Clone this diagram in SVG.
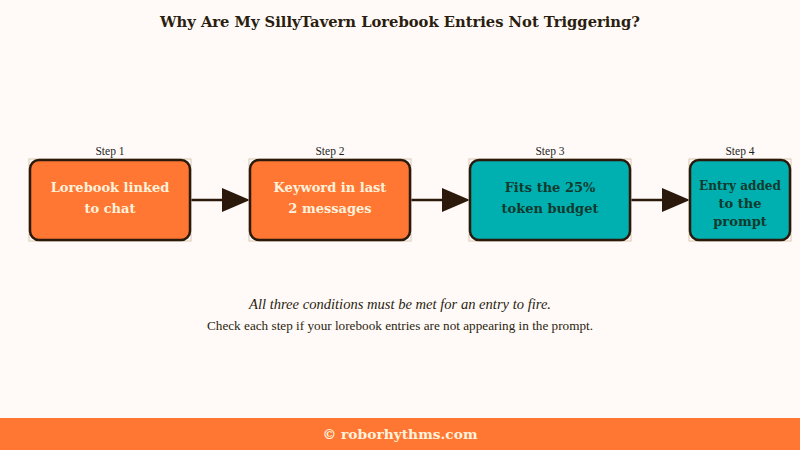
<svg xmlns="http://www.w3.org/2000/svg" width="800" height="450" viewBox="0 0 800 450">
<defs>
<style>
text{font-family:"DejaVu Serif","Liberation Serif",serif;}
.title{font-size:14.7px;font-weight:bold;fill:#2a1e10;text-anchor:middle;}
.step{font-family:"Liberation Serif",serif;font-size:11.5px;fill:#1e1e1e;text-anchor:middle;}
.frame{fill:none;stroke:#5a4a38;stroke-width:1.2;stroke-dasharray:3 156 3 0;}
.box{stroke:#2b1a0c;stroke-width:2.5;}
.orange{fill:#ff7733;}
.teal{fill:#00b0b0;}
.lt{font-size:13px;font-weight:bold;fill:#fff2dc;text-anchor:middle;}
.dt{font-size:13px;font-weight:bold;fill:#123a2e;text-anchor:middle;}
.conn{stroke:#2b1a0c;stroke-width:2.5;fill:none;}
.note1{font-family:"Liberation Serif",serif;font-size:14px;font-style:italic;fill:#2a1e10;text-anchor:middle;}
.note2{font-family:"Liberation Serif",serif;font-size:12.5px;fill:#2a1e10;text-anchor:middle;}
.foot{font-size:13.8px;font-weight:bold;fill:#fff2dc;text-anchor:middle;}
</style>
</defs>
<rect width="800" height="450" fill="#fffaf7"/>
<text class="title" x="400" y="27" textLength="480" lengthAdjust="spacingAndGlyphs">Why Are My SillyTavern Lorebook Entries Not Triggering?</text>
<g id="connectors">
<line class="conn" x1="191" y1="200" x2="223" y2="200"/>
<path d="M222,188 L250,200 L222,212 Z" fill="#2b1a0c"/>
<line class="conn" x1="411" y1="200" x2="443" y2="200"/>
<path d="M442,188 L470,200 L442,212 Z" fill="#2b1a0c"/>
<line class="conn" x1="631" y1="200" x2="663" y2="200"/>
<path d="M662,188 L690,200 L662,212 Z" fill="#2b1a0c"/>
</g>
<g id="step1">
<text class="step" x="110" y="155">Step 1</text>
<rect x="29" y="159" width="162" height="82" fill="none" stroke="#d8c8b0" stroke-width="1"/>
<rect class="box orange" x="30" y="160" width="160" height="80" rx="9"/>
<text class="lt" x="110" y="192">Lorebook linked</text>
<text class="lt" x="110" y="213">to chat</text>
</g>
<g id="step2">
<text class="step" x="330" y="155">Step 2</text>
<rect x="249" y="159" width="162" height="82" fill="none" stroke="#d8c8b0" stroke-width="1"/>
<rect class="box orange" x="250" y="160" width="160" height="80" rx="9"/>
<text class="lt" x="330" y="192">Keyword in last</text>
<text class="lt" x="330" y="213">2 messages</text>
</g>
<g id="step3">
<text class="step" x="550" y="155">Step 3</text>
<rect x="469" y="159" width="162" height="82" fill="none" stroke="#d8c8b0" stroke-width="1"/>
<rect class="box teal" x="470" y="160" width="160" height="80" rx="9"/>
<text class="dt" x="550" y="192">Fits the 25%</text>
<text class="dt" x="550" y="213">token budget</text>
</g>
<g id="step4">
<text class="step" x="740" y="155">Step 4</text>
<rect x="689" y="159" width="102" height="82" fill="none" stroke="#d8c8b0" stroke-width="1"/>
<rect class="box teal" x="690" y="160" width="100" height="80" rx="9"/>
<text class="dt" x="740" y="190" textLength="82" lengthAdjust="spacingAndGlyphs">Entry added</text>
<text class="dt" x="740" y="208">to the</text>
<text class="dt" x="740" y="226">prompt</text>
</g>
<text class="note1" x="400" y="309" textLength="302" lengthAdjust="spacingAndGlyphs">All three conditions must be met for an entry to fire.</text>
<text class="note2" x="400" y="330" textLength="386" lengthAdjust="spacingAndGlyphs">Check each step if your lorebook entries are not appearing in the prompt.</text>
<rect x="0" y="418" width="800" height="32" fill="#ff7733"/>
<text class="foot" x="400" y="439">© roborhythms.com</text>
</svg>
